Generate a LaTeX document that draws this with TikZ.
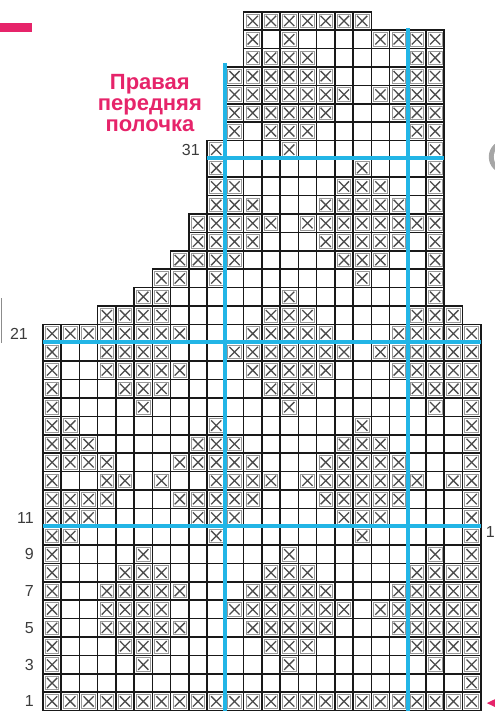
\documentclass[tikz,border=0pt]{standalone}
\usepackage{fontspec}
\setmainfont{Liberation Sans}
\usetikzlibrary{positioning}
\definecolor{chartblue}{HTML}{22B5E6}
\definecolor{chartred}{HTML}{E6246A}
\definecolor{chartgray}{HTML}{3C3C3C}

\begin{document}
\begin{tikzpicture}[
  x=18.25pt, y=18.4pt,
  cell/.style={draw=black!90, line width=1.6pt},
  crossbox/.style={draw=black!40, line width=0.8pt},
  cross/.style={draw=black!70, line width=1.3pt},
  guide/.style={draw=chartblue, line width=4pt},
  rowno/.style={font=\fontsize{16}{18}\selectfont, text=chartgray, inner sep=0pt},
  title/.style={font=\fontsize{22}{21}\selectfont\bfseries, text=chartred,
                align=center, inner sep=0pt}
]

\useasboundingbox (-2.356,-0.02) rectangle (24.767,38.64);
\clip (-2.356,-0.02) rectangle (24.767,38.64);

% === Chart rows: row / first column / last column / crossed columns ===
\foreach \r/\first/\last/\xs in {
  1/1/24/{1,...,24},
  2/1/24/{1,24},
  3/1/24/{1,6,14,22,24},
  4/1/24/{1,5,6,7,13,14,15,21,22,23,24},
  5/1/24/{1,4,5,6,7,8,12,13,14,15,16,20,21,22,23,24},
  6/1/24/{1,4,5,6,7,11,12,13,14,15,16,17,19,20,21,22,23,24},
  7/1/24/{1,4,5,6,7,8,12,13,14,15,16,20,21,22,23,24},
  8/1/24/{1,5,6,7,13,14,15,21,22,23,24},
  9/1/24/{1,6,14,22,24},
  10/1/24/{1,2,10,18,24},
  11/1/24/{1,2,3,9,10,11,17,18,19,24},
  12/1/24/{1,2,3,4,8,9,10,11,12,16,17,18,19,20,24},
  13/1/24/{1,4,5,7,10,11,12,13,15,16,17,18,19,20,21,23,24},
  14/1/24/{1,2,3,4,8,9,10,11,12,16,17,18,19,20,24},
  15/1/24/{1,2,3,9,10,11,17,18,19,24},
  16/1/24/{1,2,10,18,24},
  17/1/24/{1,6,14,22,24},
  18/1/24/{1,5,6,7,13,14,15,21,22,23,24},
  19/1/24/{1,4,5,6,7,8,12,13,14,15,16,20,21,22,23,24},
  20/1/24/{1,4,5,6,7,11,12,13,14,15,16,17,19,20,21,22,23,24},
  21/1/24/{1,2,3,4,5,6,7,8,12,13,14,15,16,20,21,22,23,24},
  22/4/23/{4,5,6,7,13,14,15,21,22,23},
  23/6/22/{6,7,14,22},
  24/7/22/{7,8,10,18,22},
  25/8/22/{8,9,10,11,17,18,19,22},
  26/9/22/{9,10,11,12,16,17,18,19,20,22},
  27/9/22/{9,10,11,12,13,15,16,17,18,19,20,21,22},
  28/10/22/{10,11,12,16,17,18,19,20,22},
  29/10/22/{10,11,17,18,19,22},
  30/10/22/{10,18,22},
  31/10/22/{10,14,22},
  32/11/22/{11,13,14,15,21,22},
  33/11/22/{11,12,13,14,15,16,20,21,22},
  34/11/22/{11,12,13,14,15,16,17,19,20,21,22},
  35/11/22/{11,12,13,14,15,16,20,21,22},
  36/12/22/{12,13,14,15,21,22},
  37/12/22/{12,14,19,20,21,22},
  38/12/18/{12,...,18}%
}{
  \foreach \c in {\first,...,\last}
    \draw[cell] (\c-1,\r-1) rectangle (\c,\r);
  \foreach \c in \xs {
    \draw[crossbox] (\c-0.87,\r-0.87) rectangle (\c-0.13,\r-0.13);
    \draw[cross] (\c-0.78,\r-0.78) -- (\c-0.22,\r-0.22)
                 (\c-0.78,\r-0.22) -- (\c-0.22,\r-0.78);
  }
}

% === Blue guide lines ===
\draw[guide] (0,10.05) -- (24,10.05);
\draw[guide] (0,20.05) -- (24,20.05);
\draw[guide] (9,30.05) -- (22,30.05);
\draw[guide] (10,0) -- (10,35.2);
\draw[guide] (20,0) -- (20,37.12);

% === Row numbers ===
\foreach \n in {1,3,5,7,9,11}
  \node[rowno, anchor=east] (row\n) at (-0.5,\n-0.5) {\n};
\node[rowno, anchor=east] (row21) at (-0.82,20.5) {21};
\node[rowno, anchor=east] (row31) at (8.6,30.5) {31};
\node[rowno, anchor=west] (rowedge) at (24.27,9.7) {1};

% === Title ===
\node[title] (title) at (5.86,33.05) {Правая\\передняя\\полочка};

% === Page marks ===
\fill[chartred] (-2.356,36.90) rectangle (-0.603,37.39);
\draw[black!45, line width=1.2pt] (-2.27,20.0) -- (-2.27,22.45);
\fill[chartred] (24.33,0.41) -- (24.9,0.68) -- (24.9,0.14) -- cycle;
\fill[black!35] (25.37,30.11) circle (17pt);
\fill[white] (25.6,30.11) circle (16pt);

\end{tikzpicture}
\end{document}
